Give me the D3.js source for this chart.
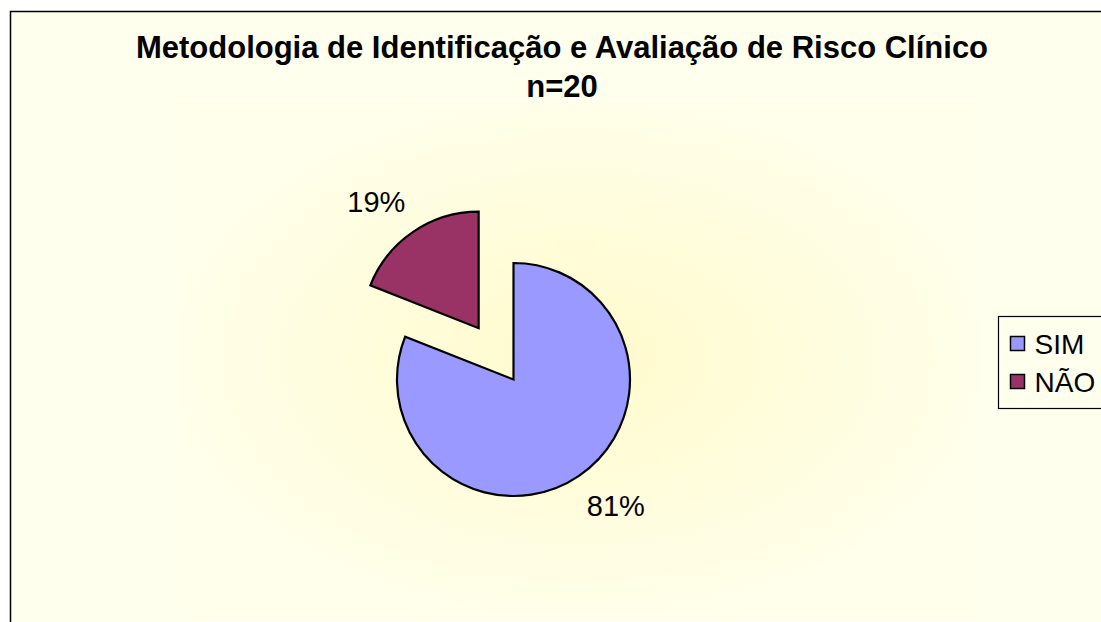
<!DOCTYPE html>
<html>
<head>
<meta charset="utf-8">
<script src="https://cdn.jsdelivr.net/npm/d3@7"></script>
<style>
  body { margin: 0; background: #ffffff; }
  svg { display: block; font-family: "Liberation Sans", Arial, sans-serif; }
</style>
</head>
<body>
<svg id="chart" width="1101" height="622"></svg>
<script>
// chart data
var categories = ["SIM", "NÃO"];
var values = [81, 19];
var colors = ["#9999ff", "#993366"];
var titleLines = ["Metodologia de Identificação e Avaliação de Risco Clínico", "n=20"];

var svg = d3.select("#chart");

// background gradient for the plot area
var defs = svg.append("defs");
var grad = defs.append("radialGradient")
    .attr("id", "plotbg")
    .attr("cx", "50%").attr("cy", "50%").attr("r", "55%");
grad.append("stop").attr("offset", "0%").attr("stop-color", "#fffacc");
grad.append("stop").attr("offset", "100%").attr("stop-color", "#ffffec");

// chart area (clipped at right and bottom like the reference)
svg.append("rect")
    .attr("x", 10.5).attr("y", 11.5)
    .attr("width", 1300).attr("height", 800)
    .attr("fill", "#ffffee")
    .attr("stroke", "#000").attr("stroke-width", 1.5);

svg.append("rect")
    .attr("x", 178).attr("y", 103)
    .attr("width", 800).attr("height", 510)
    .attr("fill", "url(#plotbg)");

// title
svg.append("text")
    .attr("x", 562).attr("y", 58)
    .attr("text-anchor", "middle")
    .style("font-weight", "bold").style("font-size", "31px")
    .selectAll("tspan").data(titleLines).enter()
    .append("tspan")
    .attr("x", 562)
    .attr("dy", function(d, i) { return i == 0 ? 0 : 39; })
    .text(function(d) { return d; });

// pie
var cx = 513.5, cy = 379.5, r = 116.5;
var explode = 62; //NÃO slice pulled out
var pie = d3.pie().sort(null).value(function(d) { return d; });
var arc = d3.arc().innerRadius(0).outerRadius(r);
var arcs = pie(values);
var total = d3.sum(values);

var g = svg.append("g").attr("transform", "translate(" + cx + "," + cy + ")");

g.selectAll("path.slice").data(arcs).enter()
    .append("path")
    .attr("class", "slice")
    .attr("d", arc)
    .attr("fill", function(d, i) { return colors[i]; })
    .attr("stroke", "#000").attr("stroke-width", 2.2)
    .attr("stroke-linejoin", "miter")
    .attr("transform", function(d, i) {
        if (i == 0) return null;
        var a = (d.startAngle + d.endAngle) / 2;
        return "translate(" + (Math.sin(a) * explode) + "," + (-Math.cos(a) * explode) + ")";
    });

// data labels, placed on an ellipse round the slice
g.selectAll("text.lbl").data(arcs).enter()
    .append("text")
    .attr("class", "lbl")
    .attr("text-anchor", "middle")
    .attr("dy", "0.35em")
    .style("font-size", "29px")
    .attr("x", function(d, i) {
        var a = (d.startAngle + d.endAngle) / 2;
        var off = i == 0 ? 0 : explode;
        return Math.sin(a) * (182 + off);
    })
    .attr("y", function(d, i) {
        var a = (d.startAngle + d.endAngle) / 2;
        var off = i == 0 ? 0 : explode;
        return -Math.cos(a) * (153 + off);
    })
    .text(function(d) { return Math.round(d.value / total * 100) + "%"; });

// legend
var leg = svg.append("g").attr("transform", "translate(998.5,316.5)");
leg.append("rect")
    .attr("width", 200).attr("height", 92)
    .attr("fill", "#ffffee")
    .attr("stroke", "#000").attr("stroke-width", 1.2);

var items = leg.selectAll("g.item").data(categories).enter()
    .append("g")
    .attr("class", "item")
    .attr("transform", function(d, i) { return "translate(12," + (27 + i * 38) + ")"; });

items.append("rect")
    .attr("x", 0).attr("y", -7)
    .attr("width", 14).attr("height", 14)
    .attr("fill", function(d, i) { return colors[i]; })
    .attr("stroke", "#000").attr("stroke-width", 1.5);

items.append("text")
    .attr("x", 24).attr("dy", "0.36em")
    .style("font-size", "28px")
    .text(function(d) { return d; });
</script>
</body>
</html>
